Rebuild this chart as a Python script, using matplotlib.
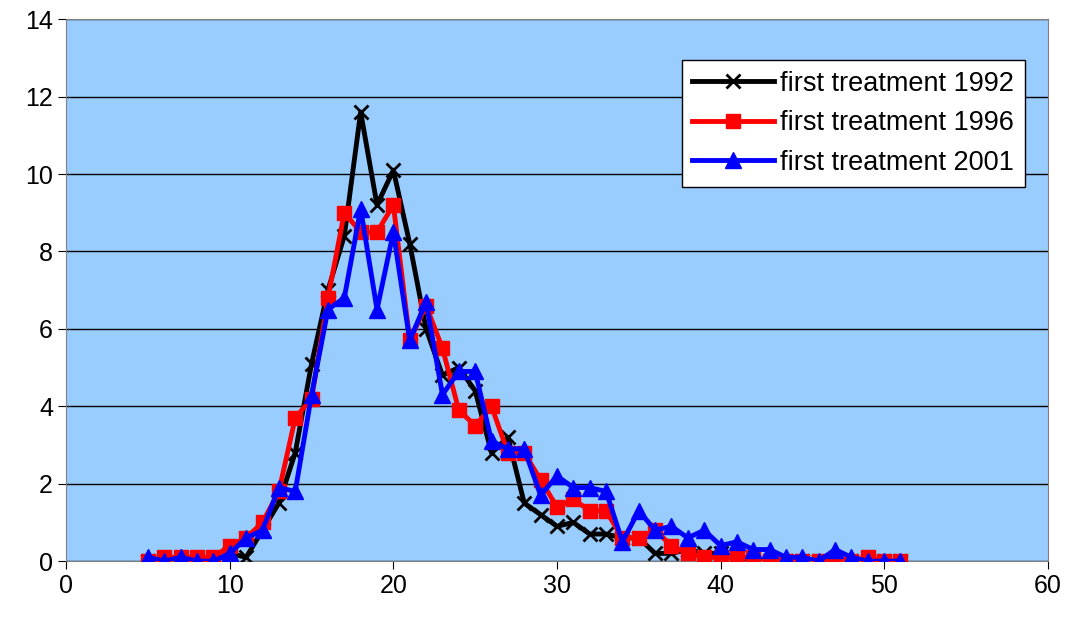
import numpy as np
import matplotlib.pyplot as plt

plt.rcParams['font.family'] = ['Liberation Sans', 'DejaVu Sans']

x = list(range(5, 52))
y1992 = [0, 0, 0, 0, 0, 0.2, 0.1, 0.8, 1.5, 2.8, 5.1, 7.0, 8.4, 11.6, 9.2, 10.1, 8.2, 6.0, 4.8, 5.0,
         4.4, 2.8, 3.2, 1.5, 1.2, 0.9, 1.0, 0.7, 0.7, 0.6, 0.6, 0.2, 0.2, 0.3, 0.2, 0.2, 0.1, 0.0,
         0, 0, 0, 0, 0, 0, 0, 0, 0]
y1996 = [0, 0.1, 0.1, 0.1, 0.1, 0.4, 0.6, 1.0, 1.8, 3.7, 4.2, 6.8, 9.0, 8.5, 8.5, 9.2, 5.7, 6.6, 5.5, 3.9,
         3.5, 4.0, 2.8, 2.8, 2.1, 1.4, 1.6, 1.3, 1.3, 0.6, 0.6, 0.8, 0.4, 0.2, 0.1, 0.1, 0.1, 0.1,
         0, 0, 0, 0, 0, 0, 0.1, 0, 0]
y2001 = [0.1, 0, 0.1, 0, 0, 0.2, 0.6, 0.8, 1.9, 1.8, 4.3, 6.5, 6.8, 9.1, 6.5, 8.5, 5.7, 6.7, 4.3, 4.9,
         4.9, 3.1, 2.9, 2.9, 1.7, 2.2, 1.9, 1.9, 1.8, 0.5, 1.3, 0.8, 0.9, 0.6, 0.8, 0.4, 0.5, 0.3,
         0.3, 0.1, 0.1, 0, 0.3, 0.1, 0, 0, 0]

fig = plt.figure(figsize=(10.68, 6.18), dpi=100)
ax = fig.add_axes([0.062, 0.092, 0.919, 0.877])
ax.set_facecolor('#99CCFF')

ax.plot(x, y1992, color='black', lw=3.5, marker='x', ms=10, mew=2, label='first treatment 1992', zorder=3)
ax.plot(x, y1996, color='red', lw=3.5, marker='s', ms=10, label='first treatment 1996', zorder=4)
ax.plot(x, y2001, color='blue', lw=3.5, marker='^', ms=11, label='first treatment 2001', zorder=5)

ax.set_xlim(0, 60)
ax.set_ylim(0, 14)
ax.set_xticks(range(0, 61, 10))
ax.set_yticks(range(0, 15, 2))
ax.grid(axis='y', color='black', lw=1)
ax.set_axisbelow(True)
ax.tick_params(labelsize=18, direction='out', length=6)
for s in ax.spines.values():
    s.set_color('#808080')

leg = ax.legend(loc='upper right', bbox_to_anchor=(0.977, 0.925), fontsize=19.5, frameon=True,
                fancybox=False, edgecolor='black', framealpha=1, handlelength=3.0,
                borderpad=0.4, labelspacing=0.5, handletextpad=0.25, borderaxespad=0)

fig.savefig('out.png', dpi=100)
